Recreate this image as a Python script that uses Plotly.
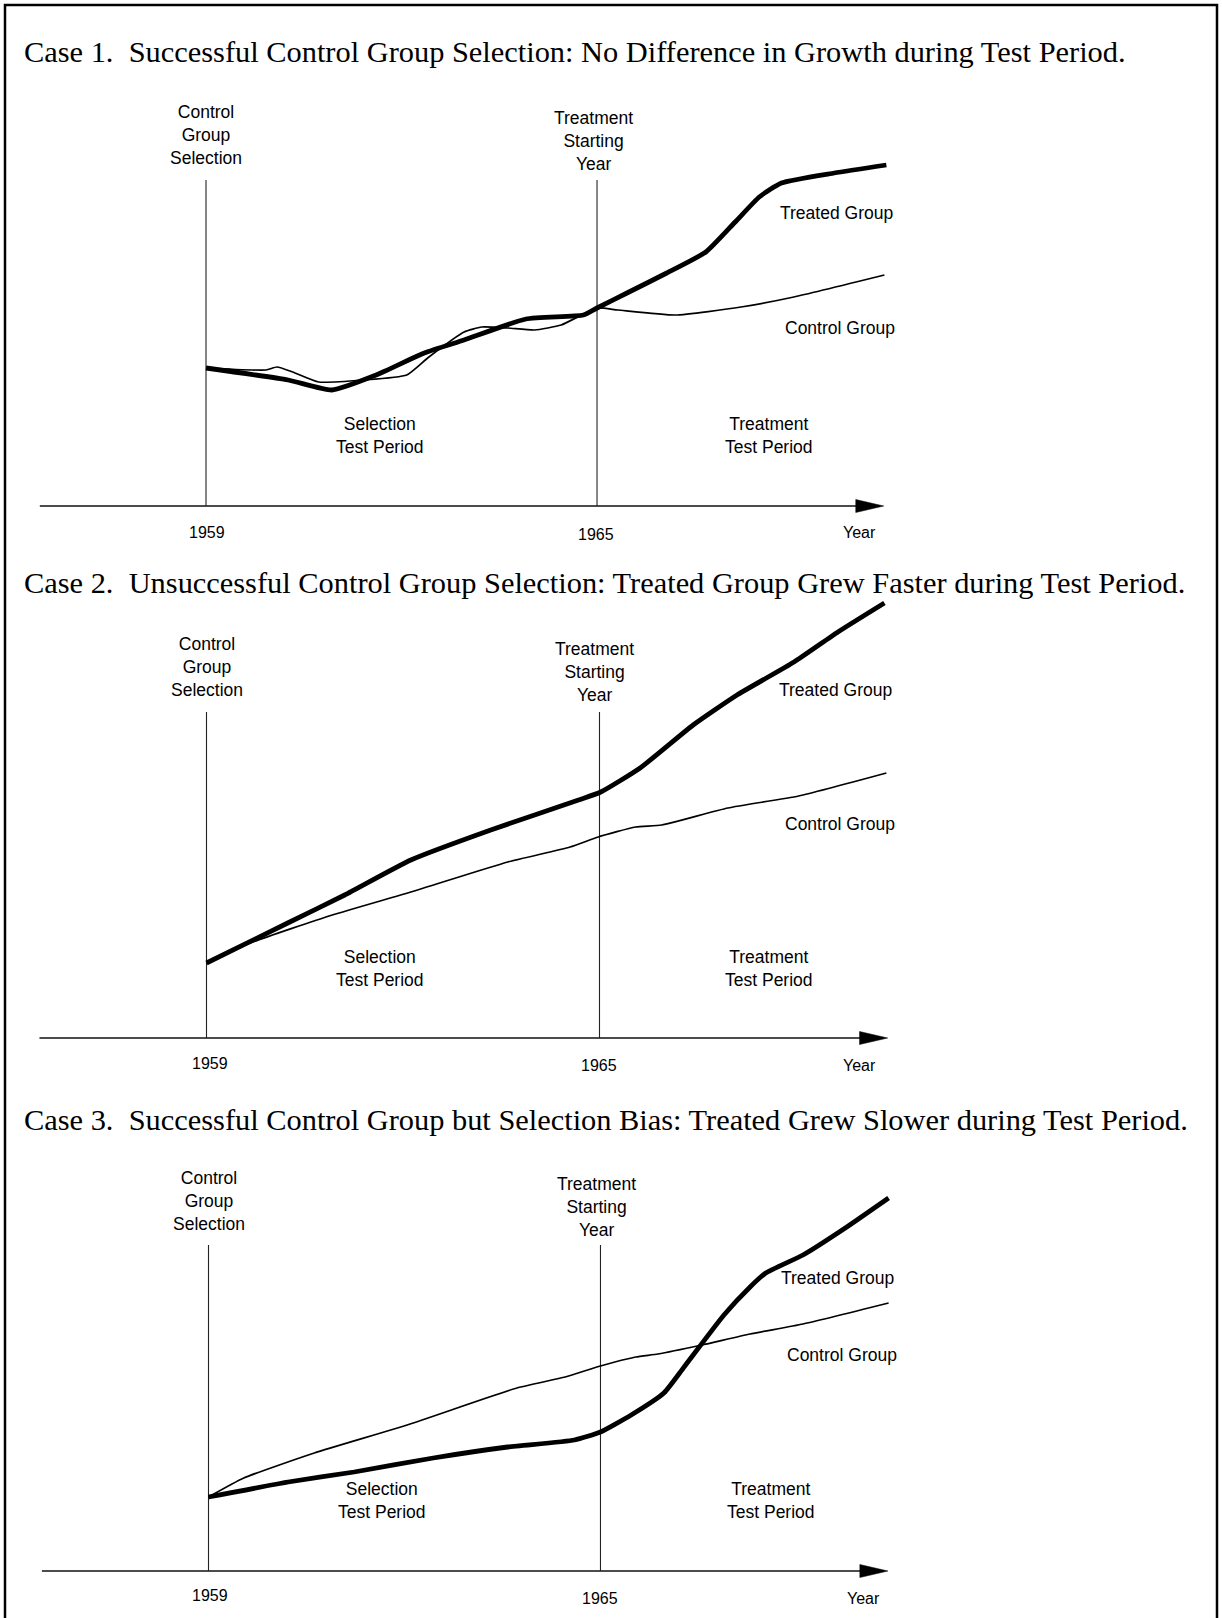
import plotly.graph_objects as go

W, H = 1222, 1618

# ---------------- data (years, growth index above baseline) ----------------
case_titles = [
    "Case 1.  Successful Control Group Selection: No Difference in Growth during Test Period.",
    "Case 2.  Unsuccessful Control Group Selection: Treated Group Grew Faster during Test Period.",
    "Case 3.  Successful Control Group but Selection Bias: Treated Grew Slower during Test Period.",
]

c1_treated_years = [1959.00, 1960.26, 1960.93, 1961.61, 1962.35, 1962.96, 1963.91, 1964.79, 1965.00,
                    1965.46, 1966.07, 1966.67, 1967.12, 1967.49, 1967.83, 1968.64, 1969.44]
c1_treated_vals = [13.8, 12.6, 11.6, 13.1, 15.3, 16.6, 18.7, 19.1, 19.8,
                   21.3, 23.3, 25.4, 28.4, 30.9, 32.3, 33.3, 34.1]
c1_control_years = [1959.00, 1959.92, 1960.09, 1960.33, 1960.73, 1961.41, 1962.08, 1962.42, 1962.96,
                    1963.23, 1963.63, 1964.04, 1964.45, 1965.00, 1965.32, 1966.20, 1967.21, 1968.02, 1969.41]
c1_control_vals = [13.8, 13.6, 13.9, 13.4, 12.4, 12.6, 13.1, 14.9, 17.4,
                   17.9, 17.8, 17.6, 18.1, 19.8, 19.6, 19.1, 19.9, 20.9, 23.1]

c2_treated_years = [1959.00, 1960.24, 1961.11, 1962.12, 1963.34, 1964.68, 1965.02, 1965.62, 1966.43,
                    1967.10, 1967.97, 1968.64, 1969.35]
c2_treated_vals = [7.5, 11.5, 14.3, 17.8, 20.8, 23.8, 24.6, 27.0, 31.3, 34.3, 37.6, 40.6, 43.5]
c2_control_years = [1959.00, 1959.71, 1960.92, 1962.12, 1963.60, 1964.55, 1964.98, 1965.55, 1965.95,
                    1966.96, 1968.04, 1969.38]
c2_control_vals = [7.5, 9.6, 12.3, 14.6, 17.6, 19.1, 20.1, 21.1, 21.3, 23.0, 24.2, 26.5]

c3_treated_years = [1959.00, 1960.22, 1961.23, 1962.44, 1963.58, 1964.60, 1965.00, 1965.47, 1965.97,
                    1966.28, 1966.89, 1967.29, 1967.53, 1968.10, 1968.77, 1969.41]
c3_treated_vals = [7.4, 8.9, 9.9, 11.3, 12.4, 13.1, 13.9, 15.6, 17.8,
                   20.4, 25.6, 28.4, 29.8, 31.6, 34.4, 37.3]
c3_control_years = [1959.00, 1959.54, 1960.62, 1962.04, 1963.72, 1964.46, 1965.00, 1965.54, 1965.88,
                    1966.55, 1967.29, 1968.10, 1969.41]
c3_control_vals = [7.4, 9.3, 11.8, 14.6, 18.3, 19.4, 20.5, 21.4, 21.7, 22.6, 23.7, 24.7, 26.8]

event_years = [1959, 1965]            # control group selection, treatment start
event_labels = ["Control<br>Group<br>Selection", "Treatment<br>Starting<br>Year"]
tick_labels = ["1959", "1965", "Year"]
period_labels = ["Selection<br>Test Period", "Treatment<br>Test Period"]
series_labels = ["Treated Group", "Control Group"]
axis_start_year, axis_end_year = 1956.45, 1969.40
marker_line_top = 32.6

treated = [(c1_treated_years, c1_treated_vals), (c2_treated_years, c2_treated_vals),
           (c3_treated_years, c3_treated_vals)]
control = [(c1_control_years, c1_control_vals), (c2_control_years, c2_control_vals),
           (c3_control_years, c3_control_vals)]

# ---------------- layout geometry (pixels) ----------------
Y_PX = 10.0  # pixels per growth unit
geom = [
    dict(x59=206.0, ppy=65.17, axis=506.0, band=(0, 560), title_y=52,
         ev_y=[37.1, 36.5], ev_x=[1959.0, 1964.95], per_x=[1961.67, 1967.64], per_y=7.05,
         ser_x=[1968.67, 1968.73], ser_y=[29.3, 17.8],
         tick_x=[1959.02, 1964.99, 1969.02], tick_y=[-2.65, -2.86, -2.65]),
    dict(x59=206.5, ppy=65.5, axis=1038.0, band=(560, 1095), title_y=583,
         ev_y=[37.1, 36.6], ev_x=[1959.0, 1964.92], per_x=[1961.65, 1967.59], per_y=7.0,
         ser_x=[1968.61, 1968.67], ser_y=[34.8, 21.4],
         tick_x=[1959.05, 1964.99, 1968.97], tick_y=[-2.5, -2.7, -2.7]),
    dict(x59=208.5, ppy=65.33, axis=1571.0, band=(1095, H), title_y=1120,
         ev_y=[37.0, 36.45], ev_x=[1959.0, 1964.94], per_x=[1961.66, 1967.61], per_y=7.05,
         ser_x=[1968.63, 1968.69], ser_y=[29.3, 21.6],
         tick_x=[1959.02, 1965.0, 1969.03], tick_y=[-2.45, -2.76, -2.76]),
]

SANS = "Liberation Sans, Arial, Helvetica, sans-serif"
SERIF = "Liberation Serif, Times New Roman, serif"
LABEL_FONT = dict(family=SANS, size=17.5, color="#000")
ARROW_LEN, ARROW_HALF = 0.43, 0.65

fig = go.Figure()
annotations = []
layout_axes = {}

for i, g in enumerate(geom):
    n = "" if i == 0 else str(i + 1)
    xa, ya = "x" + n, "y" + n
    r0 = 1959 - g["x59"] / g["ppy"]
    r1 = r0 + W / g["ppy"]
    top, bot = g["band"]
    layout_axes["xaxis" + n] = dict(domain=[0, 1], range=[r0, r1], visible=False,
                                    anchor=ya, fixedrange=True)
    layout_axes["yaxis" + n] = dict(domain=[1 - bot / H, 1 - top / H],
                                    range=[(g["axis"] - bot) / Y_PX, (g["axis"] - top) / Y_PX],
                                    visible=False, anchor=xa, fixedrange=True)

    # baseline axis with arrow
    fig.add_trace(go.Scatter(x=[axis_start_year, axis_end_year - 0.2], y=[0, 0], mode="lines",
                             line=dict(color="#111", width=1.6), xaxis=xa, yaxis=ya,
                             showlegend=False, hoverinfo="skip"))
    fig.add_trace(go.Scatter(x=[axis_end_year - ARROW_LEN, axis_end_year, axis_end_year - ARROW_LEN,
                                axis_end_year - ARROW_LEN],
                             y=[ARROW_HALF, 0, -ARROW_HALF, ARROW_HALF], mode="lines", fill="toself",
                             fillcolor="#000", line=dict(color="#000", width=0.5), xaxis=xa, yaxis=ya,
                             showlegend=False, hoverinfo="skip"))
    # event marker lines
    for ey in event_years:
        fig.add_trace(go.Scatter(x=[ey, ey], y=[0, marker_line_top], mode="lines",
                                 line=dict(color="#222", width=1.1), xaxis=xa, yaxis=ya,
                                 showlegend=False, hoverinfo="skip"))
    # series
    cx, cy = control[i]
    fig.add_trace(go.Scatter(x=cx, y=cy, mode="lines", line=dict(color="#000", width=1.7,
                             shape="spline", smoothing=0.5), xaxis=xa, yaxis=ya,
                             showlegend=False, hoverinfo="skip"))
    tx, ty = treated[i]
    fig.add_trace(go.Scatter(x=tx, y=ty, mode="lines", line=dict(color="#000", width=4.8,
                             shape="spline", smoothing=0.5), xaxis=xa, yaxis=ya,
                             showlegend=False, hoverinfo="skip"))

    # text
    annotations.append(dict(text=case_titles[i], xref="paper", yref="paper", x=22 / W,
                            y=1 - g["title_y"] / H, xanchor="left", yanchor="middle",
                            showarrow=False, font=dict(family=SERIF, size=30.4, color="#000")))
    for k in range(2):
        annotations.append(dict(text=event_labels[k], xref=xa, yref=ya, x=g["ev_x"][k], y=g["ev_y"][k],
                                xanchor="center", yanchor="middle", showarrow=False, font=LABEL_FONT))
        annotations.append(dict(text=period_labels[k], xref=xa, yref=ya, x=g["per_x"][k], y=g["per_y"],
                                xanchor="center", yanchor="middle", showarrow=False, font=LABEL_FONT))
        annotations.append(dict(text=series_labels[k], xref=xa, yref=ya, x=g["ser_x"][k], y=g["ser_y"][k],
                                xanchor="center", yanchor="middle", showarrow=False, font=LABEL_FONT))
    for k in range(3):
        annotations.append(dict(text=tick_labels[k], xref=xa, yref=ya, x=g["tick_x"][k], y=g["tick_y"][k],
                                xanchor="center", yanchor="middle", showarrow=False,
                                font=dict(family=SANS, size=16, color="#000")))

fig.update_layout(
    width=W, height=H, margin=dict(l=0, r=0, t=0, b=0),
    paper_bgcolor="white", plot_bgcolor="rgba(0,0,0,0)",
    hovermode=False, showlegend=False,
    annotations=annotations,
    shapes=[dict(type="rect", xref="paper", yref="paper", x0=5 / W, x1=1217 / W,
                 y0=-0.02, y1=1 - 5 / H, line=dict(color="#000", width=2.5))],
    **layout_axes,
)

fig.write_html("out.html", config={"displayModeBar": False, "staticPlot": True},
               post_script="document.body.style.margin='0';")
